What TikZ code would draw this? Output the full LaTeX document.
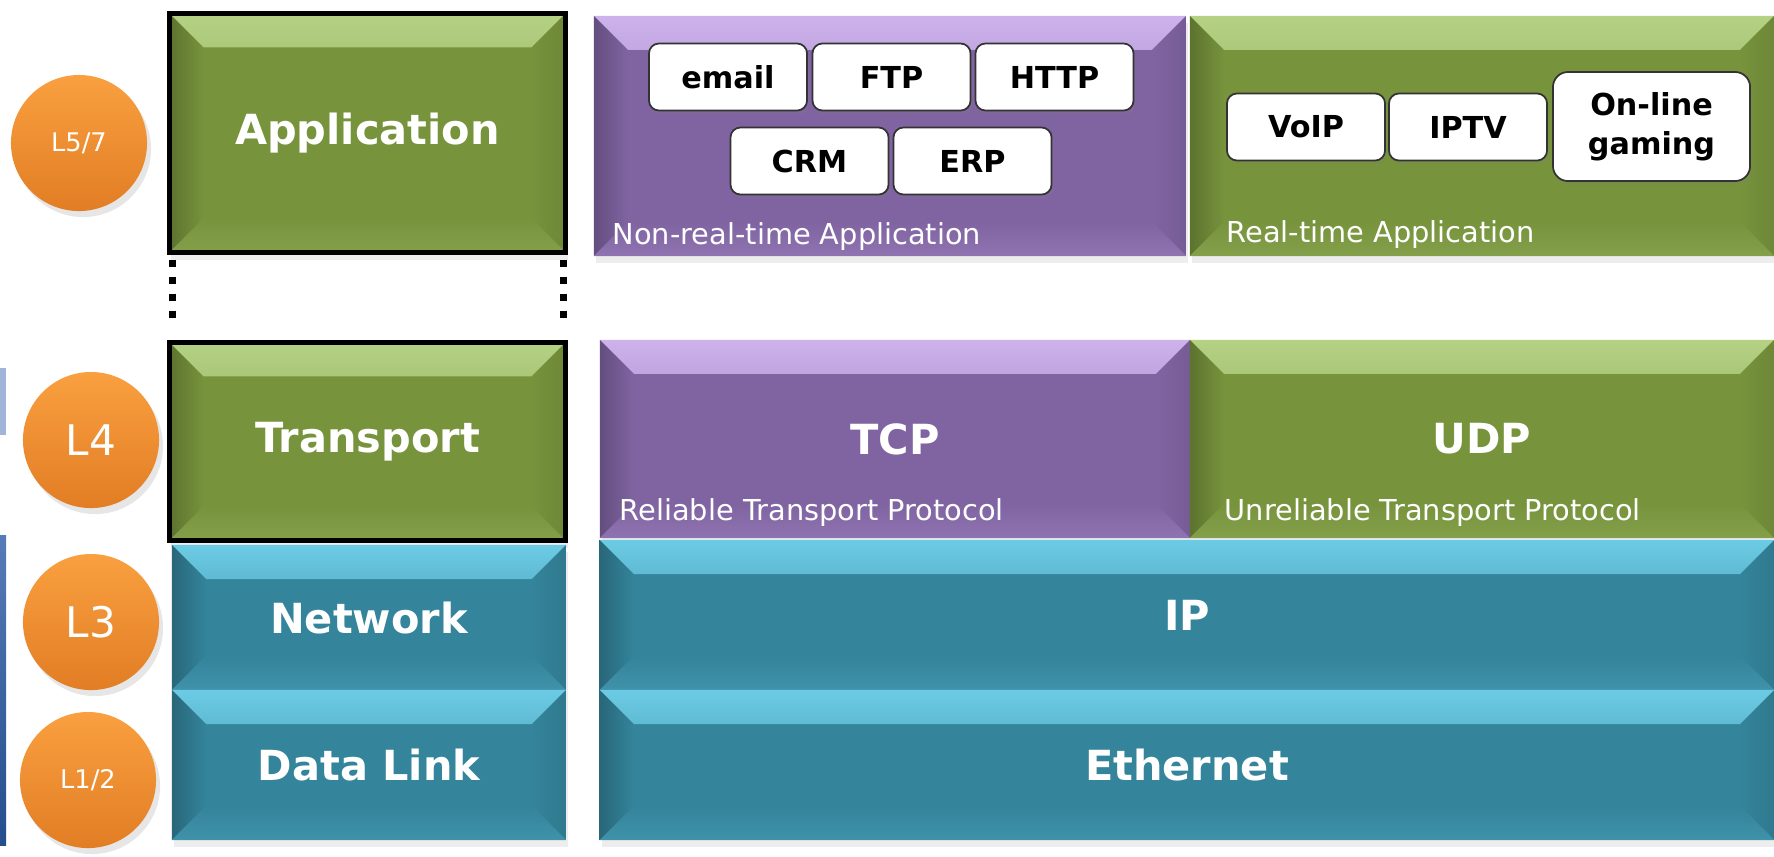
\documentclass[tikz,border=0pt]{standalone}
\usepackage{fontspec}
\setmainfont{DejaVu Sans}
\usetikzlibrary{shadows}
\definecolor{layergreen}{HTML}{77933C}
\definecolor{layergreenhi}{HTML}{B5D184}
\definecolor{layerpurple}{HTML}{8064A2}
\definecolor{layerpurplehi}{HTML}{CDB2EC}
\definecolor{layerteal}{HTML}{34849B}
\definecolor{layertealhi}{HTML}{6CCBE4}
\definecolor{lvlorange}{HTML}{F9A040}
\definecolor{lvlorangedk}{HTML}{E27D24}
\definecolor{stripblue}{HTML}{2B5BA6}
\newcommand\bevw{0.34cm}
\tikzset{
  L/.style={fill=#1, inner sep=0pt, outer sep=0pt, text=white,
    font=\fontsize{11.8}{14}\selectfont\bfseries,
    drop shadow={opacity=0.14, shadow xshift=0.2mm, shadow yshift=-0.7mm},
    path picture={
      \shade[top color=#1hi, bottom color=#1]
        (path picture bounding box.north west) -- (path picture bounding box.north east)
        -- ([shift={(-\bevw,-\bevw)}]path picture bounding box.north east)
        -- ([shift={(\bevw,-\bevw)}]path picture bounding box.north west) -- cycle;
      \shade[left color=#1!78!black, right color=#1]
        (path picture bounding box.north west)
        -- ([shift={(\bevw,-\bevw)}]path picture bounding box.north west)
        -- ([shift={(\bevw,\bevw)}]path picture bounding box.south west)
        -- (path picture bounding box.south west) -- cycle;
      \shade[right color=#1!92!black, left color=#1]
        (path picture bounding box.north east)
        -- ([shift={(-\bevw,-\bevw)}]path picture bounding box.north east)
        -- ([shift={(-\bevw,\bevw)}]path picture bounding box.south east)
        -- (path picture bounding box.south east) -- cycle;
      \shade[bottom color=#1!80!#1hi, top color=#1]
        (path picture bounding box.south west) -- (path picture bounding box.south east)
        -- ([shift={(-\bevw,\bevw)}]path picture bounding box.south east)
        -- ([shift={(\bevw,\bevw)}]path picture bounding box.south west) -- cycle;
    }},
  K/.style={L=#1, draw=black, line width=1.4pt},
  W/.style={draw=black!80, line width=0.5pt, fill=white, rounded corners=1mm,
    inner sep=0pt, minimum width=1.58cm, minimum height=0.67cm, align=center,
    font=\fontsize{8.6}{11}\selectfont\bfseries,
    drop shadow={opacity=0.15, shadow xshift=0.2mm, shadow yshift=-0.4mm}},
  C/.style={circle, inner sep=0pt, minimum size=1.36cm, text=white,
    top color=lvlorange, bottom color=lvlorangedk,
    drop shadow={opacity=0.2, shadow xshift=0.4mm, shadow yshift=-0.6mm}},
  T/.style={anchor=west, inner sep=0pt, text=white,
    font=\fontsize{8.2}{10}\selectfont},
  vdots/.style={line width=0.07cm, dash pattern=on 0.07cm off 0.1cm},
}

\begin{document}
\begin{tikzpicture}[x=0.01cm, y=-0.01cm]
\useasboundingbox (0,0) rectangle (1774,856);

% ═══════════════════════════════════════════════════════════════
% left edge strip (cut off)
% ═══════════════════════════════════════════════════════════════
\fill[stripblue!45!white] (0,368) rectangle (6,435);
\shade[top color=stripblue!80!white, bottom color=stripblue!85!black]
  (0,535) rectangle (6,845);

% ═══════════════════════════════════════════════════════════════
% OSI layer column
% ═══════════════════════════════════════════════════════════════
\node[K=layergreen, minimum width=3.96cm, minimum height=2.39cm]
  at (367.5,133) (app) {Application};
\node[K=layergreen, minimum width=3.96cm, minimum height=1.98cm]
  at (367.5,441.5) (trans) {Transport};
\node[L=layerteal, minimum width=3.94cm, minimum height=1.45cm]
  at (369,617.5) (net) {Network};
\node[L=layerteal, minimum width=3.94cm, minimum height=1.50cm]
  at (369,765) (dlink) {Data Link};

\draw[vdots, shorten <=0.07cm, shorten >=0.18cm]
  ([xshift=0.03cm]app.south west) -- ([xshift=0.03cm]trans.north west);
\draw[vdots, shorten <=0.07cm, shorten >=0.18cm]
  ([xshift=-0.02cm]app.south east) -- ([xshift=-0.02cm]trans.north east);

% Layer badges
\node[C, font=\fontsize{7.3}{9}\selectfont] at (79,143) (lv57) {L5/7};
\node[C, font=\fontsize{12}{14}\selectfont] at (91,440) (lv4) {L4};
\node[C, font=\fontsize{12}{14}\selectfont] at (91,622) (lv3) {L3};
\node[C, font=\fontsize{7.3}{9}\selectfont] at (88,780) (lv12) {L1/2};

% ═══════════════════════════════════════════════════════════════
% Applications
% ═══════════════════════════════════════════════════════════════
\node[L=layerpurple, minimum width=5.92cm, minimum height=2.40cm]
  at (890,136) (nrt) {};
\node[T] at (612,237) (nrtlbl) {Non-real-time Application};

\node[W] at (728,77) (email) {email};
\node[W] at (891.5,77) (ftp) {FTP};
\node[W] at (1054.5,77) (http) {HTTP};
\node[W] at (809.5,161) (crm) {CRM};
\node[W] at (972.5,161) (erp) {ERP};

\node[L=layergreen, minimum width=5.84cm, minimum height=2.40cm]
  at (1482,136) (rt) {};
\node[T] at (1226,235) (rtlbl) {Real-time Application};

\node[W] at (1306,127) (voip) {VoIP};
\node[W] at (1468,127) (iptv) {IPTV};
\node[W, minimum width=1.97cm, minimum height=1.09cm, rounded corners=1.5mm]
  at (1651.5,126.5) (game) {On-line\\gaming};

% ═══════════════════════════════════════════════════════════════
% Transport / network / link protocols
% ═══════════════════════════════════════════════════════════════
\node[L=layerpurple, minimum width=5.90cm, minimum height=1.98cm]
  at (895,439) (tcp) {TCP};
\node[T] at (619,513) (tcplbl) {Reliable Transport Protocol};

\node[L=layergreen, minimum width=5.84cm, minimum height=1.98cm]
  at (1482,439) (udp) {UDP};
\node[T] at (1224,513) (udplbl) {Unreliable Transport Protocol};

\node[L=layerteal, minimum width=11.74cm, minimum height=1.50cm]
  at (1187,615) (ip) {IP};
\node[L=layerteal, minimum width=11.74cm, minimum height=1.50cm]
  at (1187,765) (eth) {Ethernet};

\end{tikzpicture}
\end{document}
